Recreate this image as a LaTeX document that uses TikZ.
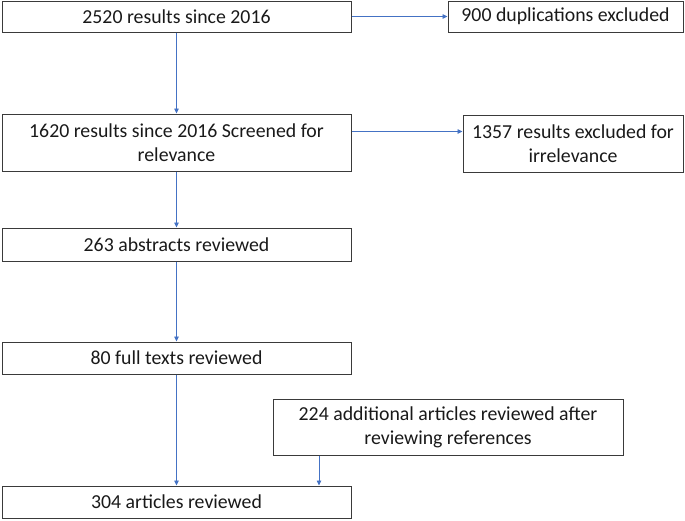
\documentclass[tikz,border=0pt]{standalone}
\usepackage{fontspec}
\setmainfont{Carlito}
\usetikzlibrary{arrows.meta}
\definecolor{flowblue}{HTML}{4472C4}
\definecolor{boxline}{HTML}{3A3A3A}

\begin{document}
\begin{tikzpicture} [x=1pt, y=-1pt,
  box/.style={draw=boxline, line width=1pt, inner sep=0pt, align=center,
    font=\fontsize{19.8}{24}\selectfont, text=black!90},
  flow/.style={flowblue, line width=0.8pt, -{Triangle[length=5pt,width=4.5pt]}}]
\useasboundingbox (0,0) rectangle (685,520);
% main column
\node[box, minimum width=349pt, minimum height=31pt] (res) at (176.5,16.5) {2520 results since 2016};
\node[box, minimum width=349pt, minimum height=57pt] (screen) at (176.5,142.5) {1620 results since 2016 Screened for\\relevance};
\node[box, minimum width=349pt, minimum height=33pt] (abs) at (176.5,244.5) {263 abstracts reviewed};
\node[box, minimum width=349pt, minimum height=32pt] (full) at (176.5,358) {80 full texts reviewed};
\node[box, minimum width=349pt, minimum height=32pt] (final) at (176.5,502) {304 articles reviewed};
% side boxes
\node[box, minimum width=235pt, minimum height=31pt] (dup) at (565.5,16.5) {900 duplications excluded};
\node[box, minimum width=220pt, minimum height=57pt] (irr) at (573,143.5) {1357 results excluded for\\irrelevance};
\node[box, minimum width=350pt, minimum height=56pt] (extra) at (448,427) {224 additional articles reviewed after\\reviewing references};
% arrows
\draw[flow] (res) -- (dup);
\draw[flow] ([yshift=11pt]screen.east) -- ([yshift=11pt]screen.east -| irr.west);
\foreach \a/\b in {res/screen, screen/abs, abs/full, full/final}
  \draw[flow] (\a.south) -- (\b.north);
\coordinate (xtra) at ([xshift=-129pt]extra.south);
\draw[flow] (xtra) -- (xtra |- final.north);
\end{tikzpicture}
\end{document}
